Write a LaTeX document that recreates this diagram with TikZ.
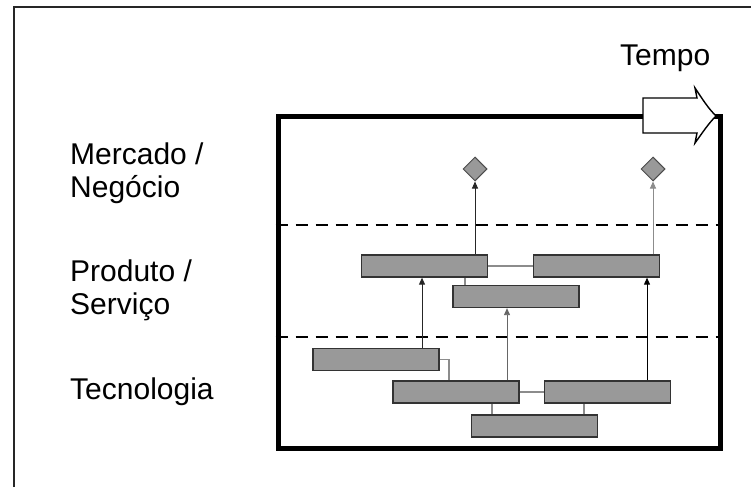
\documentclass[tikz,border=0pt]{standalone}
\usepackage{fontspec}
\setmainfont{Liberation Sans}
\usetikzlibrary{arrows.meta,shapes.geometric}
\definecolor{barfill}{HTML}{999999}
\tikzset{
  bar/.style={rectangle, draw=black!80, line width=1.3pt, fill=barfill, minimum width=126pt, minimum height=22pt, inner sep=0pt},
  milestone/.style={diamond, draw=black!70, line width=1pt, fill=barfill, minimum width=24pt, minimum height=24pt, inner sep=0pt},
  upar/.style={line width=0.9pt, -{Triangle[length=7pt,width=6pt]}},
  link/.style={line width=1.2pt, draw=black!45},
  dashline/.style={line width=2.6pt, dash pattern=on 12pt off 8pt},
  lbl/.style={font=\fontsize{30pt}{33pt}\selectfont, inner sep=0pt, align=left, anchor=base west}
}
\begin{document}
\begin{tikzpicture}[x=1pt,y=-1pt]
\useasboundingbox (0,0) rectangle (751,487);
\fill[white] (0,0) rectangle (751,487);
\draw[line width=1.5pt, black!85] (14,487) -- (14,7) -- (751,7);
% main frame
\node[rectangle, draw, line width=5pt, minimum width=442pt, minimum height=332pt, inner sep=0pt] (frame) at (499,282) {};
% time arrow
\draw[line width=1.4pt, fill=white] (643,98) -- (697,98) -- (695,88) .. controls (703,100) and (708,108) .. (716,116) .. controls (708,124) and (703,132) .. (695,143) -- (697,133) -- (643,133) -- cycle;
\node[lbl] (tempo) at (620,65) {Tempo};
% labels
\node[lbl] (mercado) at (70,197) {Mercado /\\Negócio};
\node[lbl] (produto) at (70,314) {Produto /\\Serviço};
\node[lbl] (tec) at (70,399) {Tecnologia};
% dashed separators
\draw[dashline] (frame.west |- 0,225) -- (frame.east |- 0,225);
\draw[dashline] (frame.west |- 0,337) -- (frame.east |- 0,337);
% milestones
\node[milestone] (D1) at (475,169) {};
\node[milestone] (D2) at (653,169) {};
% bars
\node[bar] (P1) at (424.5,266) {};
\node[bar] (P2) at (596.5,266) {};
\node[bar] (P3) at (516,296.5) {};
\node[bar] (T1) at (376,359.5) {};
\node[bar] (T2) at (456,392) {};
\node[bar] (T3) at (607.5,392) {};
\node[bar] (T4) at (534.5,426) {};
% gray links
\draw[link] (P1.east) -- (P2.west);
\draw[link] ([xshift=-51pt]P3.north) -- ([xshift=-51pt]P3.north |- P1.south);
\draw[link] (T1.east) -| ([xshift=-7pt]T2.north);
\draw[link] (T2.east) -- (T3.west);
\draw[link] ([xshift=-42.5pt]T4.north) -- ([xshift=-42.5pt]T4.north |- T2.south);
\draw[link] ([xshift=49.5pt]T4.north) -- ([xshift=49.5pt]T4.north |- T3.south);
% arrows
\draw[upar, black!85] ([xshift=46pt]T1.north) -- ([xshift=46pt]T1.north |- P1.south);
\draw[upar, black!60] ([xshift=51pt]T2.north) -- ([xshift=51pt]T2.north |- P3.south);
\draw[upar, black] ([xshift=39.5pt]T3.north) -- ([xshift=39.5pt]T3.north |- P2.south);
\draw[upar, black!85] (P1.north -| D1) -- (D1.south);
\draw[upar, black!45] (P2.north -| D2) -- (D2.south);
\end{tikzpicture}
\end{document}
